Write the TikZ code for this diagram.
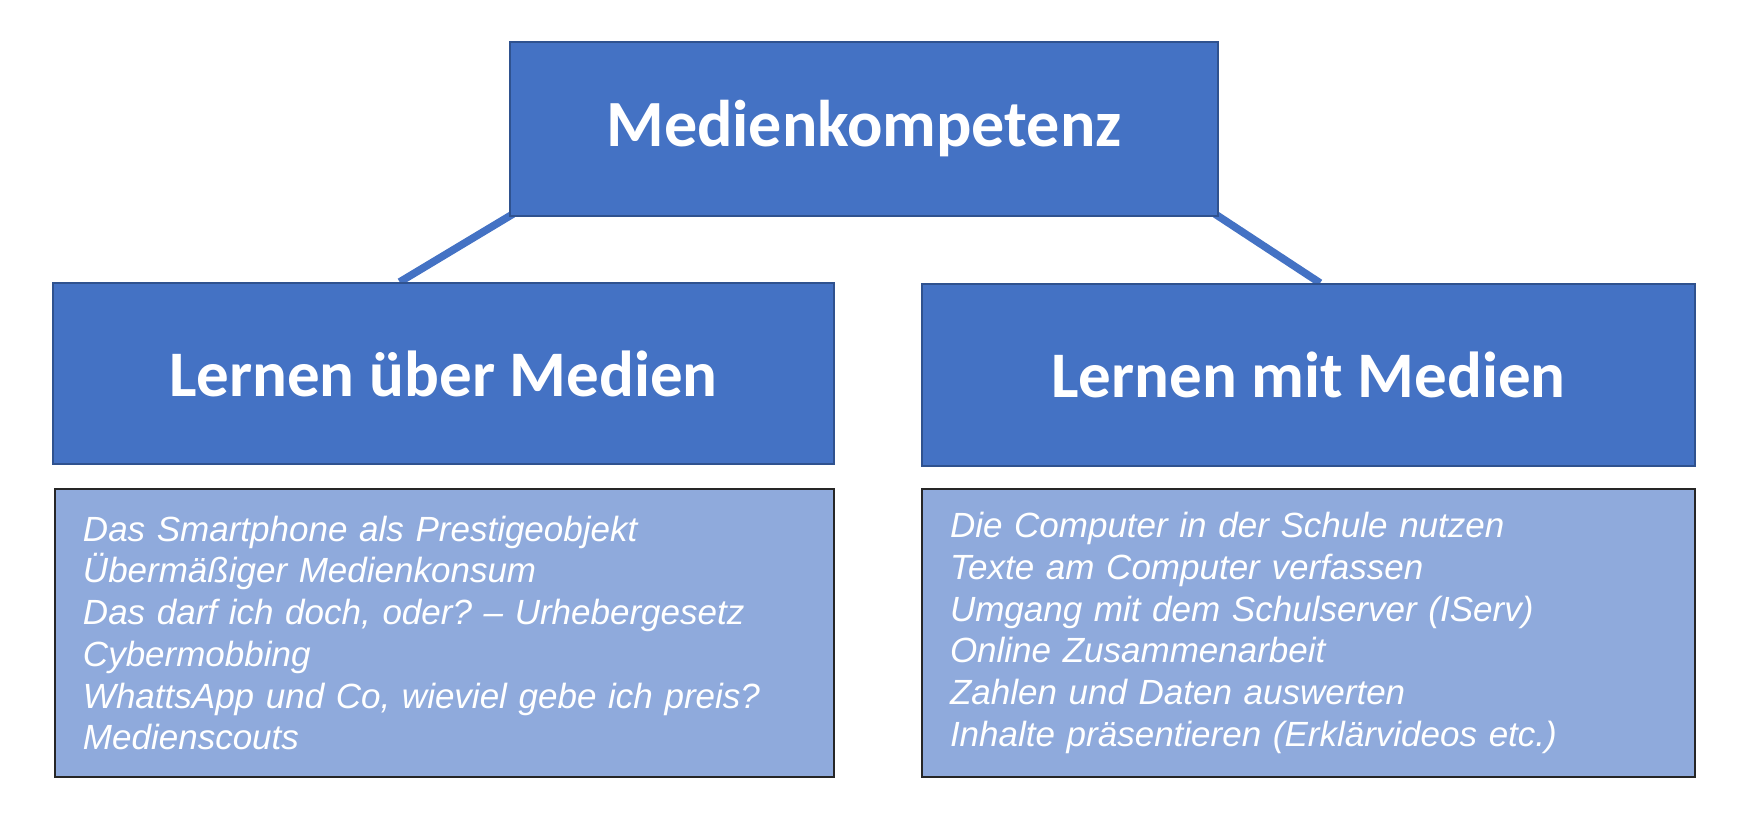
\documentclass[tikz,border=0pt]{standalone}
\usepackage{fontspec}
\usetikzlibrary{calc}
\newfontfamily\titlefont{Carlito}
\newfontfamily\listfont{Liberation Sans}
\definecolor{boxblue}{HTML}{4472C4}
\definecolor{boxborder}{HTML}{2F528F}
\definecolor{listblue}{HTML}{8FAADC}
\definecolor{listborder}{HTML}{262626}
\frenchspacing
\tikzset{
  headbox/.style={draw=boxborder, fill=boxblue, line width=1pt, text=white, inner sep=0pt,
    font=\titlefont\bfseries\fontsize{32.5}{40}\selectfont},
  listbox/.style={draw=listborder, fill=listblue, line width=0.9pt, text=white, align=left,
    inner xsep=14pt, inner ysep=0pt, minimum height=144pt,
    font=\listfont\itshape\fontsize{17.5}{20.85}\selectfont},
  link/.style={draw=boxblue, line width=3.8pt}
}
\begin{document}
\begin{tikzpicture}[x=0.5pt,y=-0.5pt]
\useasboundingbox (0,0) rectangle (1752,813);
% boxes (placed first to name them; redrawn after connectors)
\node[headbox, minimum width=354pt, minimum height=87pt] (top) at (864,129) {};
\node[headbox, minimum width=390.5pt, minimum height=90.5pt] (lb) at (443.5,373.5) {};
\node[headbox, minimum width=386.5pt, minimum height=91pt] (rb) at (1308.5,375) {};
% connectors
\coordinate (la) at ($(lb.north west)!0.444!(lb.north east)$);
\coordinate (ra) at ($(rb.north west)!0.515!(rb.north east)$);
\coordinate (ta) at ($(top.south west)+(4,-3)$);
\coordinate (tb) at ($(top.south east)+(-4,-3)$);
\draw[link] (ta) -- (la);
\draw[link] (tb) -- (ra);
% boxes with text over connector ends
\node[headbox, minimum width=354pt, minimum height=87pt] (topt) at (864,129)
  {\fontsize{33}{40}\selectfont Medienkompetenz};
\node[headbox, minimum width=390.5pt, minimum height=90.5pt] (lbt) at (443.5,373.5)
  {Lernen über Medien};
\node[headbox, minimum width=386.5pt, minimum height=91pt] (rbt) at (1308.5,375)
  {Lernen mit Medien};
% lists
\node[listbox, text width=361.5pt] (ll) at (444.5,633)
  {Das Smartphone als Prestigeobjekt\\
   Übermäßiger Medienkonsum\\
   Das darf ich doch, oder? – Urhebergesetz\\
   Cybermobbing\\
   WhattsApp und Co, wieviel gebe ich preis?\\
   Medienscouts};
\node[listbox, text width=358.5pt] (rl) at (1308.5,633)
  {Die Computer in der Schule nutzen\\
   Texte am Computer verfassen\\
   Umgang mit dem Schulserver (IServ)\\
   Online Zusammenarbeit\\
   Zahlen und Daten auswerten\\
   Inhalte präsentieren (Erklärvideos etc.)};
\end{tikzpicture}
\end{document}
